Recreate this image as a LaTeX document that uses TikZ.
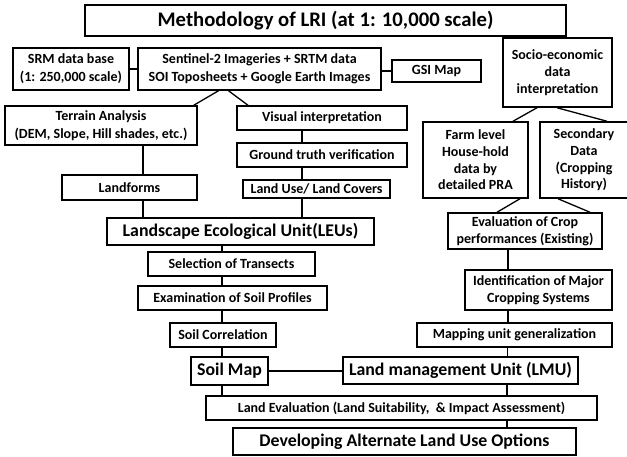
\documentclass[tikz,border=0pt]{standalone}
\usepackage{fontspec}
\setmainfont{Carlito}[BoldFont={Carlito Bold}]
\begin{document}
\begin{tikzpicture}[x=1pt,y=-1pt,
  box/.style={draw, line width=1.5pt, inner sep=0.5pt, align=center, font=\bfseries\fontsize{14}{16.7}\selectfont},
  bigfont/.style={font=\bfseries\fontsize{17.8}{20}\selectfont},
  topfont/.style={font=\bfseries\fontsize{14}{18}\selectfont},
  ln/.style={line width=1.3pt}]
\useasboundingbox (0,0) rectangle (627,456);
% nodes
\node[box, minimum width=481pt, minimum height=31pt, font=\bfseries\fontsize{20.7}{24}\selectfont] (title) at (325.5,20.5) {Methodology of LRI (at 1: 10,000 scale)};
\node[box, topfont, minimum width=116pt, minimum height=42pt] (srm) at (71,69) {SRM data base\\(1: 250,000 scale)};
\node[box, topfont, minimum width=243pt, minimum height=42pt] (sent) at (259.5,69) {Sentinel-2 Imageries + SRTM data\\SOI Toposheets + Google Earth Images};
\node[box, minimum width=89pt, minimum height=22pt] (gsi) at (436.5,71) {GSI Map};
\node[box, minimum width=109pt, minimum height=69pt] (socio) at (557.5,72.5) {Socio-economic\\data\\interpretation};
\node[box, topfont, minimum width=192pt, minimum height=39pt] (terrain) at (101,125.5) {Terrain Analysis\\(DEM, Slope, Hill shades, etc.)};
\node[box, minimum width=170pt, minimum height=24pt] (visual) at (322,118) {Visual interpretation};
\node[box, minimum width=170pt, minimum height=24pt] (ground) at (322,155) {Ground truth verification};
\node[box, minimum width=147pt, minimum height=18pt] (landuse) at (316.5,189) {Land Use/ Land Covers};
\node[box, minimum width=135pt, minimum height=25pt] (landforms) at (129.5,187.5) {Landforms};
\node[box, bigfont, minimum width=267pt, minimum height=27pt] (leu) at (240.5,231.5) {Landscape Ecological Unit(LEUs)};
\node[box, minimum width=167pt, minimum height=24pt] (sel) at (231.5,264) {Selection of Transects};
\node[box, minimum width=189pt, minimum height=24pt] (exam) at (232.5,298) {Examination of Soil Profiles};
\node[box, minimum width=106pt, minimum height=24pt] (corr) at (223,335) {Soil Correlation};
\node[box, bigfont, minimum width=77pt, minimum height=28pt] (soilmap) at (229.5,371) {Soil Map};
\node[box, minimum width=391pt, minimum height=24pt] (landeval) at (401.5,408) {Land Evaluation (Land Suitability,\ \ \& Impact Assessment)};
\node[box, bigfont, minimum width=343pt, minimum height=27pt] (dev) at (404.5,441.5) {Developing Alternate Land Use Options};
\node[box, bigfont, minimum width=235pt, minimum height=27pt] (lmu) at (460.5,370.5) {Land management Unit (LMU)};
\node[box, minimum width=195pt, minimum height=24pt] (map) at (514.5,335) {Mapping unit generalization};
\node[box, minimum width=147pt, minimum height=40pt] (ident) at (538.5,290) {Identification of Major\\Cropping Systems};
\node[box, minimum width=154pt, minimum height=36pt] (evalc) at (525,231) {Evaluation of Crop\\performances (Existing)};
\node[box, minimum width=105pt, minimum height=76pt] (farm) at (475.5,160) {Farm level\\House-hold\\data by\\detailed PRA};
\node[box, minimum width=88pt, minimum height=76pt] (sec) at (584,160) {Secondary\\Data\\(Cropping\\History)};
% connectors
\draw[ln] (srm.east) -- (sent.west);
\draw[ln] (gsi.west) -- (gsi.west -| sent.east);
\draw[ln] ([xshift=-41pt]sent.south) -- ([xshift=-4pt]terrain.north east);
\draw[ln] ([xshift=-31pt]sent.south) -- ([xshift=-74pt]visual.north);
\draw[ln] ([xshift=42pt]terrain.south) coordinate (a1) -- (a1 |- landforms.north);
\draw[ln] ([xshift=13.5pt]landforms.south) coordinate (a2) -- (a2 |- leu.north);
\draw[ln] ([xshift=-20pt]visual.south) coordinate (a3) -- (a3 |- ground.north);
\draw[ln] ([xshift=-20pt]ground.south) coordinate (a4) -- (a4 |- landuse.north);
\draw[ln] ([xshift=-14.5pt]landuse.south) coordinate (a5) -- (a5 |- leu.north);
\draw[ln] ([xshift=-18.5pt]leu.south) coordinate (a6) -- (a6 |- sel.north);
\draw[ln] ([xshift=-9.5pt]sel.south) coordinate (a7) -- (a7 |- exam.north);
\draw[ln] ([xshift=-10.5pt]exam.south) coordinate (a8) -- (a8 |- corr.north);
\draw[ln] ([xshift=-1pt]corr.south) coordinate (a9) -- (a9 |- soilmap.north);
\draw[ln] ([xshift=-7.5pt]soilmap.south) coordinate (a10) -- (a10 |- landeval.north);
\draw[ln] (soilmap.east) -- (soilmap.east -| lmu.west);
\draw[ln] ([xshift=-20.5pt]socio.south) -- ([xshift=37.5pt]farm.north);
\draw[ln] ([xshift=-0.5pt]socio.south) -- ([xshift=23pt]sec.north);
\draw[ln] ([xshift=44.5pt]farm.south) -- ([xshift=-28pt]evalc.north);
\draw[ln] ([xshift=-26pt]sec.south) -- ([xshift=65pt]evalc.north);
\draw[ln] ([xshift=-17pt]evalc.south) coordinate (b1) -- (b1 |- ident.north);
\draw[ln] ([xshift=-30.5pt]ident.south) coordinate (b2) -- (b2 |- map.north);
\draw[ln] ([xshift=-7pt]map.south) coordinate (b3) -- (b3 |- lmu.north);
\draw[ln] ([xshift=46.5pt]lmu.south) coordinate (b4) -- (b4 |- landeval.north);
\draw[ln] ([xshift=105.5pt]landeval.south) coordinate (b5) -- (b5 |- dev.north);
\end{tikzpicture}
\end{document}
